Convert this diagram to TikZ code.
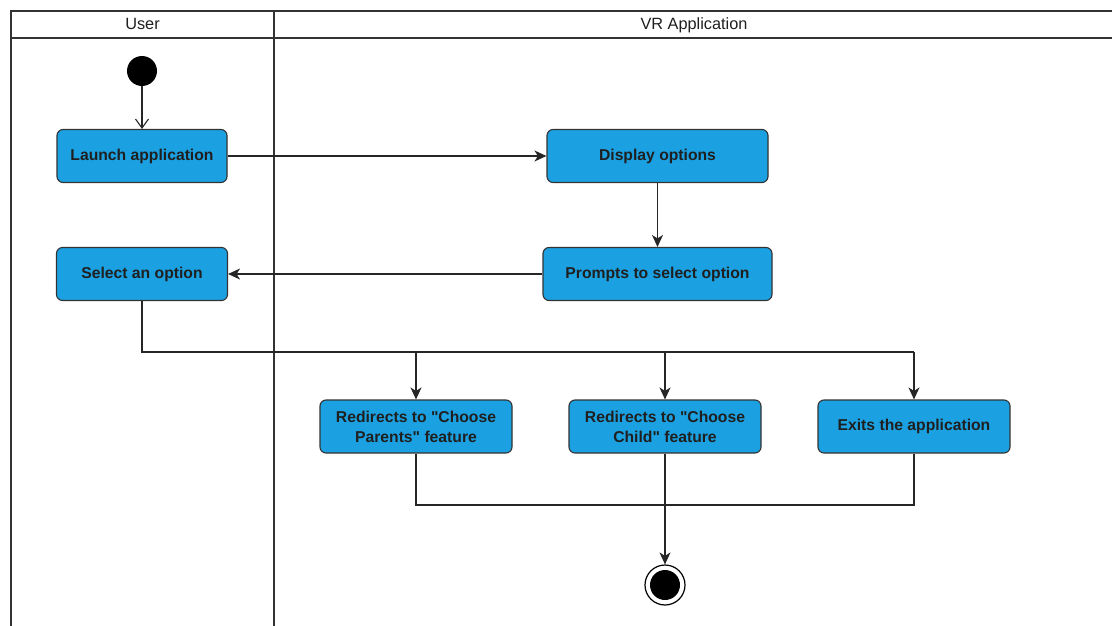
\documentclass[tikz,border=0pt]{standalone}
\usepackage{fontspec}
\setmainfont{Liberation Sans}
\usetikzlibrary{arrows.meta}
\definecolor{actfill}{HTML}{1BA1E2}
\definecolor{linegray}{HTML}{333333}

\begin{document}
\begin{tikzpicture}[x=1pt,y=-1pt,
  act/.style={draw=linegray, line width=1.1pt, fill=actfill, rounded corners=6pt,
    minimum height=53pt, align=center, inner sep=0pt,
    font=\fontsize{15.7}{20}\selectfont\bfseries, text=black!88},
  hdr/.style={font=\fontsize{16.3}{20}\selectfont, text=black!88, inner sep=0pt, anchor=base},
  lane/.style={draw=linegray, line width=1.1pt},
  wire/.style={draw=black!85, line width=1.1pt},
  flow/.style={wire, -{Stealth[length=12pt,width=11pt,inset=3.5pt]}},
  openflow/.style={wire, -{Straight Barb[length=9pt,width=13pt]}}]

\useasboundingbox (0,0) rectangle (1112,626);

% swimlane frame
\draw[lane] (11,626) -- (11,11) -- (1112,11);
\draw[lane] (11,38) -- (1112,38);
\draw[lane] (274,11) -- (274,626);
\node[hdr] (userlane) at (142.5,29.5) {User};
\node[hdr] (applane) at (694,29.5) {VR Application};

% initial and final states
\node[circle, fill=black, minimum size=30pt, inner sep=0pt] (start) at (142,71) {};
\node[circle, draw=black, line width=1.2pt, fill=white, minimum size=40pt, inner sep=0pt,
  path picture={\fill[black] (path picture bounding box.center) circle (15pt);}]
  (finish) at (665,585) {};

% activities
\node[act, minimum width=170pt] (launch) at (142,156) {Launch application};
\node[act, minimum width=221pt] (display) at (657.5,156) {Display options};
\node[act, minimum width=229pt] (prompts) at (657.5,274) {Prompts to select option};
\node[act, minimum width=171pt] (select) at (142,274) {Select an option};
\node[act, minimum width=192pt] (parents) at (416,426.5) {Redirects to \textquotedbl Choose\\Parents\textquotedbl{} feature};
\node[act, minimum width=192pt] (child) at (665,426.5) {Redirects to \textquotedbl Choose\\Child\textquotedbl{} feature};
\node[act, minimum width=192pt] (exits) at (914,426.5) {Exits the application};

% control flow
\draw[openflow] (start) -- (launch);
\draw[flow] (launch) -- (display);
\draw[flow] (display) -- (prompts);
\draw[flow] (prompts) -- (select);

\coordinate (fork) at (142,352);
\draw[wire] (select.south) -- (fork) -- (fork -| exits.north);
\draw[flow] (fork -| parents.north) -- (parents.north);
\draw[flow] (fork -| child.north) -- (child.north);
\draw[flow] (fork -| exits.north) -- (exits.north);

\coordinate (merge) at (416,505);
\draw[wire] (parents.south) -- (merge) -- (merge -| exits.south) -- (exits.south);
\draw[flow] (child.south) -- (finish);
\end{tikzpicture}
\end{document}
